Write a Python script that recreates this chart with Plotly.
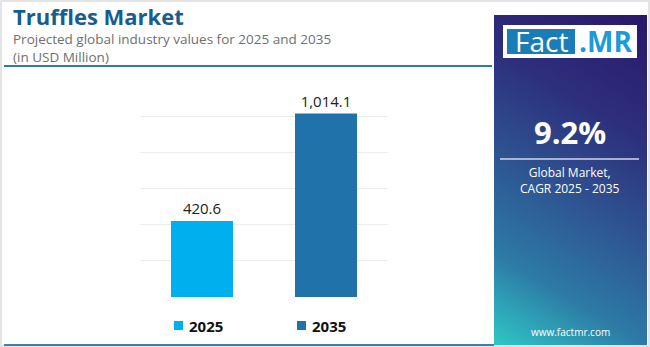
import plotly.graph_objects as go
import numpy as np

W, H = 650, 347

categories = ["2025", "2035"]
values = [420.6, 1014.1]
bar_colors = ["#00b0ee", "#1f72aa"]
y_ticks = [0, 200, 400, 600, 800, 1000, 1200]

title = "Truffles Market"
subtitle1 = "Projected global industry values for 2025 and 2035"
subtitle2 = "(in USD Million)"
cagr = "9.2%"
cagr_label = "Global Market,<br>CAGR 2025 - 2035"
site = "www.factmr.com"

FONT = "Open Sans"

def px(x):
    return x / W

def py(y):
    return 1 - y / H

fig = go.Figure()

for c, v, col in zip(categories, values, bar_colors):
    fig.add_trace(go.Bar(
        x=[c], y=[v], name=c, marker=dict(color=col, line=dict(width=0)),
        width=0.5, text=[v], texttemplate="%{y:,.1f}", textposition="outside",
        textfont=dict(family=FONT, size=15, color="#222222"),
        cliponaxis=False, xaxis="x", yaxis="y", showlegend=False,
    ))

# gradient panel (decorative) via smooth heatmap
n = 30
gx = np.linspace(0, 1, n)
gy = np.linspace(0, 1, n)
Z = [[0.78 * (1 - yy) + 0.22 * (1 - xx) for xx in gx] for yy in gy]
fig.add_trace(go.Heatmap(
    x=gx, y=gy, z=Z, zsmooth="best", showscale=False, hoverinfo="skip",
    colorscale=[[0, "#2a176a"], [0.3, "#2d2f7d"], [0.55, "#2e5592"],
                [0.78, "#2d7aa6"], [1, "#2fc8c6"]],
    zmin=0, zmax=1, xaxis="x2", yaxis="y2", showlegend=False,
))

fig.update_layout(
    width=W, height=H, margin=dict(l=0, r=0, t=0, b=0),
    paper_bgcolor="white", plot_bgcolor="white",
    barmode="overlay", showlegend=False,
    xaxis=dict(domain=[px(140), px(388)], showticklabels=False, showgrid=False,
               zeroline=False, showline=False, ticks=""),
    yaxis=dict(domain=[py(297), py(80)], range=[0, 1200], tickvals=y_ticks,
               showticklabels=False, showgrid=True, gridcolor="#ececec",
               gridwidth=1, zeroline=False, showline=False),
    xaxis2=dict(domain=[px(494), px(647)], range=[0, 1], visible=False, anchor="y2"),
    yaxis2=dict(domain=[py(345), py(15)], range=[0, 1], visible=False, anchor="x2"),
)

shapes = [
    dict(type="rect", xref="paper", yref="paper", x0=0, x1=1, y0=0, y1=1,
         line=dict(color="#e4e4e4", width=4), fillcolor="rgba(0,0,0,0)", layer="above"),
    dict(type="line", xref="paper", yref="paper", x0=px(4), x1=px(492), y0=py(66), y1=py(66),
         line=dict(color="#2f7bb0", width=2)),
    dict(type="line", xref="paper", yref="paper", x0=px(4), x1=px(494), y0=py(345), y1=py(345),
         line=dict(color="#3a7fb0", width=2)),
    # logo
    dict(type="rect", xref="paper", yref="paper", x0=px(503), x1=px(637), y0=py(58), y1=py(25),
         fillcolor="white", line=dict(width=0), layer="above"),
    dict(type="rect", xref="paper", yref="paper", x0=px(507), x1=px(575), y0=py(54), y1=py(29),
         fillcolor="#1b7db8", line=dict(width=0), layer="above"),
    dict(type="line", xref="paper", yref="paper", x0=px(500), x1=px(639), y0=py(159), y1=py(159),
         line=dict(color="rgba(220,225,240,0.7)", width=2), layer="above"),
]

ann = [
    dict(text=title, x=px(11), y=py(16), xanchor="left", yanchor="middle",
         font=dict(family=FONT, size=22, color="#175d8d", weight="bold")),
    dict(text=subtitle1, x=px(11), y=py(39), xanchor="left", yanchor="middle",
         font=dict(family=FONT, size=13.5, color="#6f6f6f")),
    dict(text=subtitle2, x=px(11), y=py(57), xanchor="left", yanchor="middle",
         font=dict(family=FONT, size=13.5, color="#6f6f6f")),
    dict(text="Fact", x=px(541), y=py(41.5), xanchor="center", yanchor="middle",
         font=dict(family=FONT, size=28, color="white")),
    dict(text=".MR", x=px(605), y=py(41.5), xanchor="center", yanchor="middle",
         font=dict(family=FONT, size=28, color="#1e9ad6", weight="bold")),
    dict(text=cagr, x=px(570), y=py(132), xanchor="center", yanchor="middle",
         font=dict(family=FONT, size=31, color="white", weight="bold")),
    dict(text=cagr_label, x=px(570), y=py(180.5), xanchor="center", yanchor="middle",
         font=dict(family=FONT, size=12, color="white")),
    dict(text=site, x=px(570), y=py(332), xanchor="center", yanchor="middle",
         font=dict(family=FONT, size=10, color="white")),
]

# manual legend: square + bold label for each category
leg_x = [174, 297]
for c, col, lx in zip(categories, bar_colors, leg_x):
    shapes.append(dict(type="rect", xref="paper", yref="paper",
                       x0=px(lx), x1=px(lx + 9), y0=py(330), y1=py(321),
                       fillcolor=col, line=dict(width=0)))
    ann.append(dict(text=c, x=px(lx + 13), y=py(325.5), xanchor="left", yanchor="middle",
                    font=dict(family=FONT, size=15, color="#111111", weight="bold")))

for a in ann:
    a.update(xref="paper", yref="paper", showarrow=False)
fig.update_layout(shapes=shapes, annotations=ann)

fig.write_html("out.html")
